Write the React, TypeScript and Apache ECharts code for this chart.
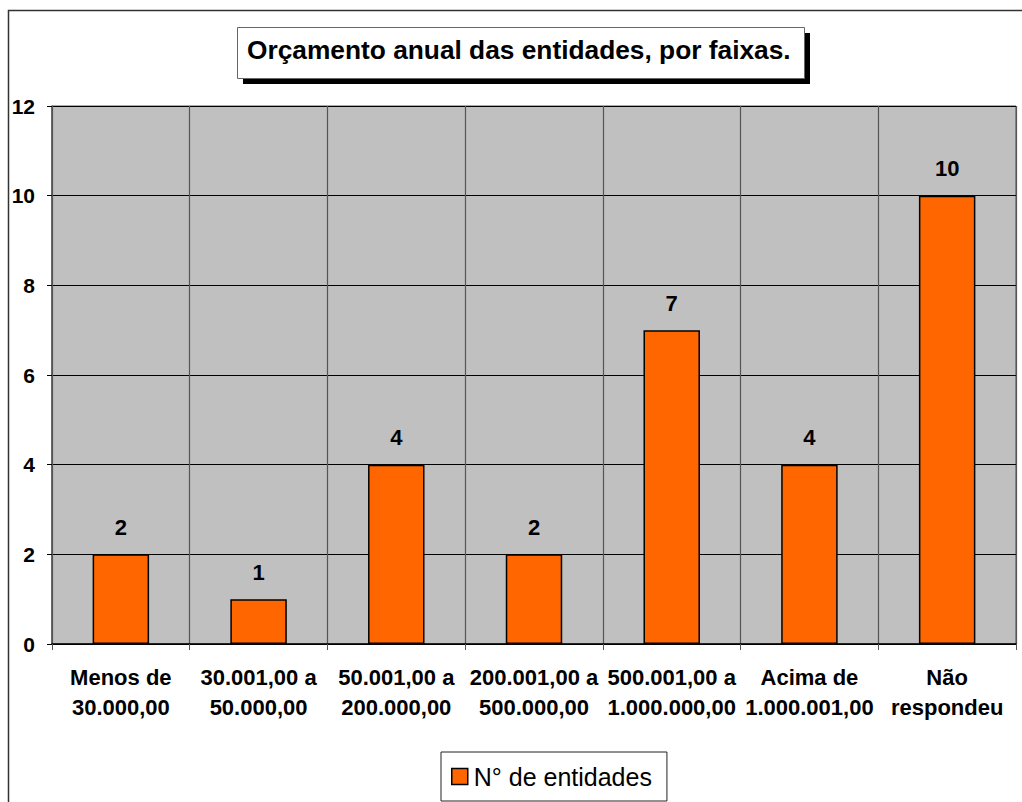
import React, { useEffect, useRef } from "react";
import * as echarts from "echarts";

const categories = [
  "Menos de\n30.000,00",
  "30.001,00 a\n50.000,00",
  "50.001,00 a\n200.000,00",
  "200.001,00 a\n500.000,00",
  "500.001,00 a\n1.000.000,00",
  "Acima de\n1.000.001,00",
  "Não\nrespondeu",
];
const values = [2, 1, 4, 2, 7, 4, 10];
const seriesName = "N° de entidades";
const titleText = "Orçamento anual das entidades, por faixas.";

export default function App() {
  const ref = useRef<HTMLDivElement>(null);
  useEffect(() => {
    if (!ref.current) return;
    const chart = echarts.init(ref.current, undefined, { renderer: "svg" });
    const font = "Arial, 'Liberation Sans', Helvetica, sans-serif";
    chart.setOption({
      animation: false,
      backgroundColor: "#ffffff",
      textStyle: { fontFamily: font },
      title: {
        text: titleText,
        left: 247,
        top: 37,
        padding: 0,
        textStyle: { fontFamily: font, fontSize: 26.3, fontWeight: "bold", color: "#000" },
        z: 10,
      },
      graphic: [
        {
          type: "rect",
          shape: { x: 8.5, y: 10.5, width: 1200, height: 1000 },
          style: { fill: "none", stroke: "#333", lineWidth: 1.5 },
          z: 0,
        },
        {
          type: "rect",
          shape: { x: 243, y: 33, width: 567, height: 51 },
          style: { fill: "#000" },
          z: 1,
        },
        {
          type: "rect",
          shape: { x: 237.5, y: 27.5, width: 567, height: 51 },
          style: { fill: "#fff", stroke: "#666", lineWidth: 1 },
          z: 2,
        },
      ],
      legend: {
        data: [seriesName],
        left: 441,
        top: 752,
        orient: "horizontal",
        padding: [12, 15, 12, 10],
        itemWidth: 16,
        itemHeight: 16,
        itemGap: 5,
        borderColor: "#222",
        borderWidth: 1,
        backgroundColor: "#fff",
        icon: "rect",
        itemStyle: { color: "#FF6600", borderColor: "#000", borderWidth: 1.5 },
        textStyle: { fontFamily: font, fontSize: 25, color: "#000", padding: [0, 0, 0, 1] },
      },
      grid: {
        left: 52,
        right: 6,
        top: 106,
        bottom: 158,
        show: true,
        backgroundColor: "#C0C0C0",
        borderColor: "#555",
        borderWidth: 1,
      },
      xAxis: {
        type: "category",
        data: categories,
        boundaryGap: true,
        axisLine: { show: true, lineStyle: { color: "#000", width: 1.5 } },
        axisTick: { show: true, length: 6, inside: false, lineStyle: { color: "#555" } },
        splitLine: { show: true, lineStyle: { color: "#555", width: 1.2 } },
        axisLabel: {
          interval: 0,
          margin: 18,
          fontFamily: font,
          fontSize: 22,
          fontWeight: "bold",
          color: "#000",
          lineHeight: 30,
        },
      },
      yAxis: {
        type: "value",
        min: 0,
        max: 12,
        interval: 2,
        axisLine: { show: true, lineStyle: { color: "#555", width: 1.5 } },
        axisTick: { show: true, length: 5, lineStyle: { color: "#000" } },
        splitLine: { show: true, lineStyle: { color: "#000", width: 1 } },
        axisLabel: {
          margin: 17,
          fontFamily: font,
          fontSize: 21,
          fontWeight: "bold",
          color: "#000",
        },
      },
      series: [
        {
          name: seriesName,
          type: "bar",
          data: values,
          barWidth: "41%",
          itemStyle: { color: "#FF6600", borderColor: "#000", borderWidth: 1.5 },
          label: {
            show: true,
            position: "top",
            distance: 16,
            fontFamily: font,
            fontSize: 22,
            fontWeight: "bold",
            color: "#000",
          },
        },
      ],
    });
    return () => chart.dispose();
  }, []);
  return (
    <div
      ref={ref}
      style={{ position: "fixed", left: 0, top: 0, width: 1022, height: 802 }}
    />
  );
}
